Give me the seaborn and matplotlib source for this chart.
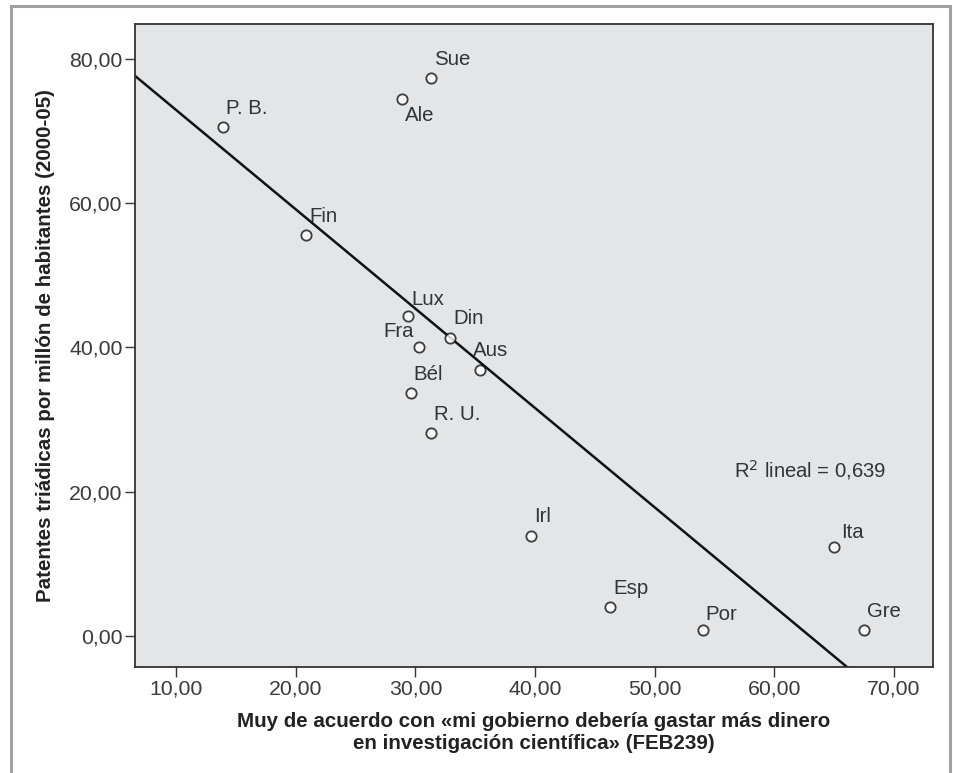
import numpy as np
import pandas as pd
import matplotlib
matplotlib.use("Agg")
import matplotlib.pyplot as plt
from matplotlib.patches import Rectangle
import seaborn as sns

# datos
paises = ["P. B.", "Sue", "Ale", "Fin", "Lux", "Fra", "Din", "Aus", "Bél",
          "R. U.", "Irl", "Esp", "Por", "Ita", "Gre"]
acuerdo = [13.9, 31.3, 28.9, 20.9, 29.4, 30.3, 32.9, 35.4, 29.6,
           31.3, 39.7, 46.3, 54.0, 65.0, 67.5]
patentes = [70.5, 77.3, 74.4, 55.5, 44.4, 40.1, 41.3, 36.9, 33.6,
            28.1, 13.9, 4.0, 0.8, 12.3, 0.8]
r2_texto = "R$^2$ lineal = 0,639"

xticks = [10, 20, 30, 40, 50, 60, 70]
yticks = [0, 20, 40, 60, 80]

df = pd.DataFrame({"pais": paises, "x": acuerdo, "y": patentes})

# desplazamiento de etiquetas (pixeles): dx, dy, alineacion
offsets = {"Ale": (3, -16, "left"), "Fra": (-5, 15, "right"),
           "Aus": (-7, 19, "left"), "Lux": (3, 16, "left"),
           "Por": (3, 16, "left"), "Ita": (7, 15, "left")}

sns.set_style("ticks")
plt.rcParams["font.family"] = ["Liberation Sans", "DejaVu Sans"]

fig = plt.figure(figsize=(9.54, 7.73), dpi=100)
ax = fig.add_axes([135 / 954, 1 - 667 / 773, 798 / 954, 643 / 773])
ax.set_facecolor("#e4e5e7")
ax.set_xlim(6.57, 73.26)
ax.set_ylim(-4.3, 84.8)

sns.regplot(data=df, x="x", y="y", ax=ax, ci=None, truncate=False,
            scatter_kws=dict(s=55, facecolor="white", edgecolor="#111111",
                             linewidths=1.3, zorder=3),
            line_kws=dict(color="#111111", lw=1.8, zorder=2))

for _, r in df.iterrows():
    dx, dy, ha = offsets.get(r["pais"], (3, 19, "left"))
    ax.annotate(r["pais"], (r["x"], r["y"]), xytext=(dx, dy),
                textcoords="offset pixels", ha=ha, va="center",
                fontsize=14.7, color="#333333", zorder=4)

ax.text(56.6, 23.0, r2_texto, ha="left", va="center", fontsize=14.6,
        color="#333333")

ax.set_xticks(xticks)
ax.set_yticks(yticks)
ax.set_xticklabels([f"{v:.2f}".replace(".", ",") for v in xticks])
ax.set_yticklabels([f"{v:.2f}".replace(".", ",") for v in yticks])
ax.tick_params(direction="out", length=7, width=1, color="#333333",
               labelsize=15.3, labelcolor="#3a3a3a", pad=2)

for s in ax.spines.values():
    s.set_color("#333333")
    s.set_linewidth(1.3)

ax.set_xlabel("Muy de acuerdo con «mi gobierno debería gastar más dinero\n"
              "en investigación científica» (FEB239)",
              fontsize=14.8, fontweight="bold", color="#222222",
              linespacing=1.15, labelpad=10)
ax.set_ylabel("Patentes triádicas por millón de habitantes (2000-05)",
              fontsize=14.8, fontweight="bold", color="#222222", labelpad=10)

# marco exterior gris
fig.patches.append(Rectangle((11 / 954, -0.05), 939 / 954, 1.05 - 6 / 773,
                             transform=fig.transFigure, fill=False,
                             edgecolor="#a0a0a0", lw=2.2, clip_on=False))

fig.savefig("out.png", dpi=100)
